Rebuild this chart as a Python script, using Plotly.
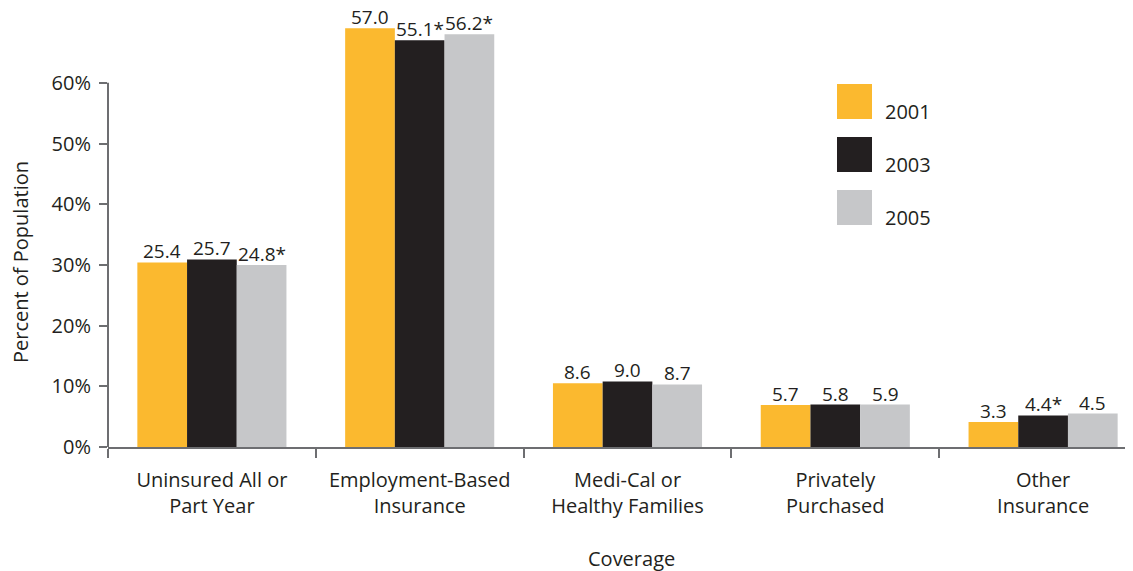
import plotly.graph_objects as go

categories = ["Uninsured All or<br>Part Year", "Employment-Based<br>Insurance",
              "Medi-Cal or<br>Healthy Families", "Privately<br>Purchased", "Other<br>Insurance"]
years = ["2001", "2003", "2005"]
colors = ["#FBB92F", "#231F20", "#C6C7C9"]
# bar heights as drawn against the axis (percent)
h2001 = [30.4, 69.0, 10.5, 6.9, 4.1]
h2003 = [30.9, 67.0, 10.8, 7.0, 5.2]
h2005 = [30.0, 68.0, 10.3, 7.0, 5.5]
# value labels printed above the bars
l2001 = ["25.4", "57.0", "8.6", "5.7", "3.3"]
l2003 = ["25.7", "55.1*", "9.0", "5.8", "4.4*"]
l2005 = ["24.8*", "56.2*", "8.7", "5.9", "4.5"]
yticks = [0, 10, 20, 30, 40, 50, 60]
ytick_text = ["0%", "10%", "20%", "30%", "40%", "50%", "60%"]

heights = [h2001, h2003, h2005]
labels = [l2001, l2003, l2005]

OFF = 8  # page body margin
W, H = 1133 - OFF, 571 - OFF
ML, MT = 108 - OFF, 10 - OFF
BASE = 447 - OFF  # pixel row of the 0% line inside the figure
MB = H - BASE
MR = 0
YMAX = 72
FONT = "Open Sans"
FS = 20
FSV = 19
TXT = "#231F20"
AX = "#6D6E71"

cat_px = 207.8
bar_px = 49.7
bar_w = bar_px / cat_px  # bar width in category units

fig = go.Figure()
xs = list(range(len(categories)))
for yr, col, hv in zip(years, colors, heights):
    fig.add_trace(go.Bar(
        x=xs, y=hv, name=yr, marker=dict(color=col, line=dict(width=0)),
        showlegend=False, hoverinfo="skip"))

plot_w = W - ML - MR
plot_h = H - MT - MB
px_per_unit = plot_h / YMAX

def py(pix):
    # reference pixel row -> y data value
    return (BASE - (pix - OFF)) / px_per_unit

def pxp(pix):
    # reference pixel column -> paper x
    return ((pix - OFF) - ML) / plot_w

xrange_len = plot_w / cat_px

fig.update_layout(
    width=W, height=H,
    margin=dict(l=ML, r=MR, t=MT, b=MB, pad=0),
    paper_bgcolor="white", plot_bgcolor="white",
    barmode="group", bargap=1 - len(years) * bar_w, bargroupgap=0,
    font=dict(family=FONT, size=FS, color=TXT),
    xaxis=dict(range=[-0.5, -0.5 + xrange_len], tickvals=xs, ticktext=categories,
               ticks="", showgrid=False, zeroline=False,
               showline=True, linecolor=AX, linewidth=2,
               tickfont=dict(family=FONT, size=FS, color=TXT),
               ticklabelstandoff=14,
               minor=dict(tick0=-0.5, dtick=1, ticks="outside", ticklen=9,
                          tickcolor=AX, tickwidth=1.5, showgrid=False)),
    yaxis=dict(range=[0, YMAX], tickvals=yticks, ticktext=ytick_text,
               ticks="outside", ticklen=8, tickcolor=AX, tickwidth=1.5,
               showgrid=False, zeroline=False, showline=False,
               tickfont=dict(family=FONT, size=FS, color=TXT),
               ticklabelstandoff=4),
)

# value labels above bars (box height trimmed so it stays inside the page)
n = len(years)
for k, (hv, lv) in enumerate(zip(heights, labels)):
    off = (k - (n - 1) / 2) * bar_w
    for i, (h, t) in enumerate(zip(hv, lv)):
        fig.add_annotation(x=xs[i] + off, y=h, xref="x", yref="y", text=t,
                           showarrow=False, xanchor="center", yanchor="bottom",
                           height=18, valign="middle", yshift=1, borderpad=0,
                           font=dict(family=FONT, size=FSV, color=TXT))

# y axis line only up to the top tick
fig.add_shape(type="line", xref="paper", yref="y", x0=0, x1=0, y0=0, y1=yticks[-1],
              line=dict(color=AX, width=2))

fig.add_annotation(text="Percent of Population", xref="paper", yref="y",
                   x=pxp(20), y=py(262), textangle=-90, showarrow=False,
                   xanchor="center", yanchor="middle",
                   font=dict(family=FONT, size=FS, color=TXT))
fig.add_annotation(text="Coverage", xref="paper", yref="paper",
                   x=pxp(631), y=(BASE - (558 - OFF)) / plot_h, showarrow=False,
                   xanchor="center", yanchor="middle",
                   font=dict(family=FONT, size=FS, color=TXT))

# legend
for i, (yr, col) in enumerate(zip(years, colors)):
    top = 84 + i * 53
    fig.add_shape(type="rect", xref="paper", yref="y",
                  x0=pxp(837), x1=pxp(872), y0=py(top + 35), y1=py(top),
                  fillcolor=col, line=dict(width=0))
    fig.add_annotation(text=yr, xref="paper", yref="y", x=pxp(883), y=py(top + 27),
                       showarrow=False, xanchor="left", yanchor="middle",
                       font=dict(family=FONT, size=FS, color=TXT))

fig.write_html("out.html")
